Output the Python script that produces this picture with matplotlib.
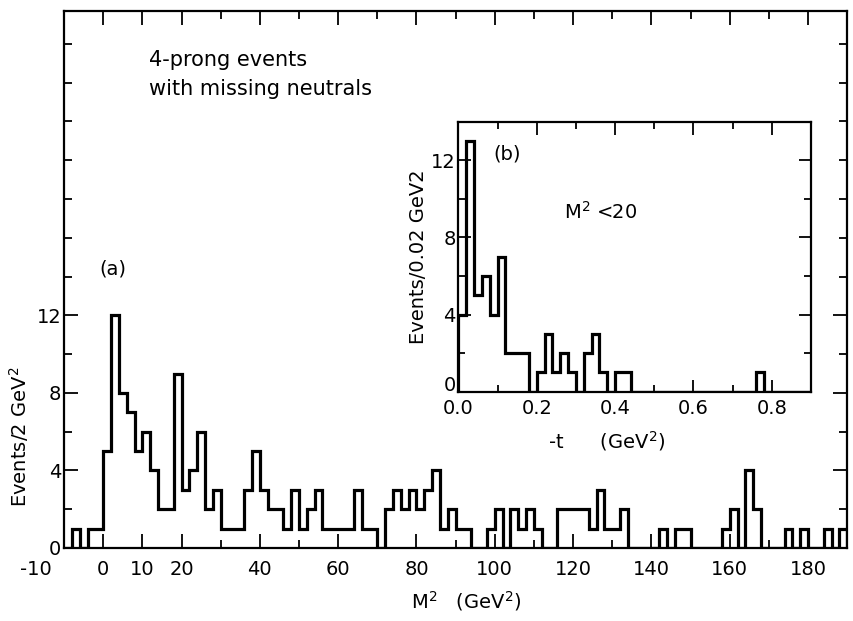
import numpy as np
import matplotlib
matplotlib.use("Agg")
import matplotlib.pyplot as plt
import matplotlib.transforms as mtransforms
from matplotlib.ticker import FixedLocator

plt.rcParams['font.family'] = ['DejaVu Sans']
plt.rcParams['mathtext.default'] = 'regular'

# main histogram (a): events per 2 GeV^2 bin, starting at M^2 = -10
m2_start = -10
m2_width = 2
m2_counts = [0, 1, 0, 1, 1, 5, 12, 8, 7, 5,
             6, 4, 2, 2, 9, 3, 4, 6, 2, 3,
             1, 1, 1, 3, 5, 3, 2, 2, 1, 3,
             1, 2, 3, 1, 1, 1, 1, 3, 1, 1,
             0, 2, 3, 2, 3, 2, 3, 4, 1, 2,
             1, 1, 0, 0, 1, 2, 0, 2, 1, 2,
             1, 0, 0, 2, 2, 2, 2, 1, 3, 1,
             1, 2, 0, 0, 0, 0, 1, 0, 1, 1,
             0, 0, 0, 0, 1, 2, 0, 4, 2, 0,
             0, 0, 1, 0, 1, 0, 0, 1, 0, 1]
m2_ticks = [-10, 0, 10, 20, 40, 60, 80, 100, 120, 140, 160, 180]
m2_ticklabels = ['-10', '0', '10', '20', '40', '60', '80', '100', '120', '140', '160', '180']

# inset histogram (b): events per 0.02 GeV^2 in -t, for M^2 < 20
t_start = 0.0
t_width = 0.02
t_counts = [4, 13, 5, 6, 4, 7, 2, 2, 2, 0,
            1, 3, 1, 2, 1, 0, 2, 3, 1, 0,
            1, 1, 0, 0, 0, 0, 0, 0, 0, 0,
            0, 0, 0, 0, 0, 0, 0, 0, 1, 0,
            0, 0, 0, 0, 0]
t_ticks = [0.0, 0.2, 0.4, 0.6, 0.8]
t_ticklabels = ['0.0', '0.2', '0.4', '0.6', '0.8']

fig = plt.figure(figsize=(8.54, 6.21), dpi=100)

# ---- main panel
ax = fig.add_axes([0.075, 0.1176, 0.917, 0.8647])
edges = m2_start + m2_width * np.arange(len(m2_counts) + 1)
ax.stairs(m2_counts, edges, color='k', lw=2.3, baseline=0)
ax.set_xlim(-10, 190)
ax.set_ylim(0, 27.7)
ax.xaxis.set_major_locator(FixedLocator(m2_ticks))
ax.set_xticklabels(m2_ticklabels)
ax.xaxis.set_minor_locator(FixedLocator([30, 50, 70, 90, 110, 130, 150, 170]))
ax.yaxis.set_major_locator(FixedLocator([0, 4, 8, 12]))
ax.set_yticklabels(['0', '4', '8', '12'])
ax.yaxis.set_minor_locator(FixedLocator(list(range(2, 27, 2))))
ax.tick_params(which='both', direction='in', top=True, right=True, width=1.3, labelsize=14)
ax.tick_params(which='major', length=10)
ax.tick_params(axis='y', which='major', pad=2)
ax.tick_params(axis='x', which='major', pad=9)
ax.tick_params(which='minor', length=6)
for s in ax.spines.values():
    s.set_linewidth(1.6)

# push the "-10" label left so it clears the "0" on the y axis
lbl = ax.get_xticklabels()[0]
lbl.set_ha('right')
lbl.set_transform(lbl.get_transform() + mtransforms.ScaledTranslation(-0.12, 0, fig.dpi_scale_trans))

ax.set_ylabel('Events/2 GeV$^2$', fontsize=14)
ax.yaxis.set_label_coords(-0.042, 0.207)
ax.set_xlabel('M$^2$   (GeV$^2$)', fontsize=14)
ax.xaxis.set_label_coords(0.513, -0.076)

ax.text(0.108, 0.881, '4-prong events\nwith missing neutrals', transform=ax.transAxes,
        fontsize=15, va='center', ha='left', linespacing=1.55)
ax.text(0.045, 0.52, '(a)', transform=ax.transAxes, fontsize=14, ha='left', va='center')

# ---- inset panel
ax2 = fig.add_axes([0.5367, 0.3692, 0.413, 0.4348])
t_edges = t_start + t_width * np.arange(len(t_counts) + 1)
ax2.stairs(t_counts, t_edges, color='k', lw=2.3, baseline=0)
ax2.set_xlim(0, 0.9)
ax2.set_ylim(0, 14)
ax2.xaxis.set_major_locator(FixedLocator(t_ticks))
ax2.set_xticklabels(t_ticklabels)
ax2.xaxis.set_minor_locator(FixedLocator([0.1, 0.3, 0.5, 0.7]))
ax2.yaxis.set_major_locator(FixedLocator([0, 4, 8, 12]))
ax2.set_yticklabels(['0', '4', '8', '12'])
ax2.yaxis.set_minor_locator(FixedLocator([2, 6, 10]))
ax2.tick_params(which='both', direction='in', top=True, right=True, width=1.3, labelsize=14)
ax2.tick_params(which='major', length=9)
ax2.tick_params(axis='y', which='major', pad=2)
ax2.tick_params(axis='x', which='major', pad=5)
ax2.tick_params(which='minor', length=5)
for s in ax2.spines.values():
    s.set_linewidth(1.6)

# lift the inset's y "0" a little so it does not sit on the "0.0"
ylbl = ax2.get_yticklabels()[0]
ylbl.set_transform(ylbl.get_transform() + mtransforms.ScaledTranslation(0, 0.08, fig.dpi_scale_trans))

ax2.set_ylabel('Events/0.02 GeV2', fontsize=14)
ax2.yaxis.set_label_coords(-0.085, 0.5)
ax2.set_xlabel('-t      (GeV$^2$)', fontsize=14)
ax2.xaxis.set_label_coords(0.42, -0.14)
ax2.text(0.1, 0.88, '(b)', transform=ax2.transAxes, fontsize=14, ha='left', va='center')
ax2.text(0.3, 0.666, 'M$^2$ <20', transform=ax2.transAxes, fontsize=14, ha='left', va='center')

fig.savefig('out.png', dpi=100)
